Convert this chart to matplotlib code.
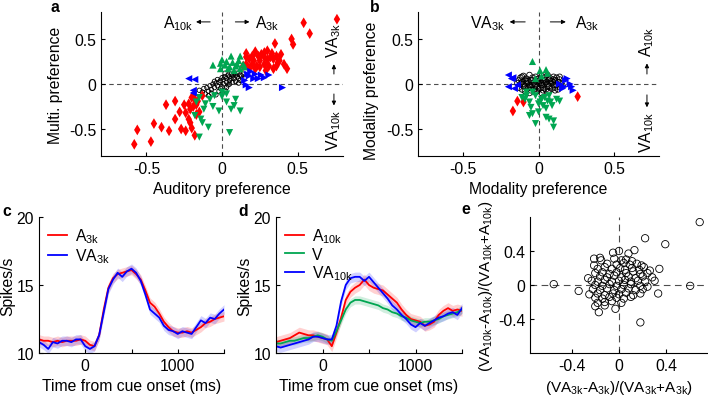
import numpy as np
import matplotlib
matplotlib.use('Agg')
import matplotlib.pyplot as plt

plt.rcParams['font.family'] = ['Liberation Sans', 'DejaVu Sans']
plt.rcParams['mathtext.fontset'] = 'custom'
plt.rcParams['mathtext.rm'] = 'Liberation Sans'
plt.rcParams['mathtext.it'] = 'Liberation Sans'
FS = 11.3
plt.rcParams['font.size'] = FS

# ---- panel a: auditory vs multi preference ----
a_red = [(0.76, 0.72), (0.54, 0.68), (0.58, 0.56), (0.46, 0.50), (0.47, 0.44), (0.35, 0.45),
         (0.16, 0.34), (0.22, 0.36), (0.28, 0.35), (0.30, 0.37), (0.33, 0.34), (0.20, 0.31),
         (0.24, 0.31), (0.28, 0.30), (0.32, 0.30), (0.36, 0.31), (0.18, 0.28), (0.21, 0.26),
         (0.25, 0.26), (0.30, 0.27), (0.34, 0.28), (0.38, 0.26), (0.41, 0.22), (0.16, 0.22),
         (0.20, 0.22), (0.23, 0.20), (0.28, 0.22), (0.31, 0.20), (0.36, 0.20), (0.43, 0.17),
         (0.18, 0.17), (0.22, 0.17), (0.25, 0.19), (0.34, 0.17), (0.16, 0.30), (0.26, 0.33),
         (0.39, 0.33), (0.14, 0.20), (0.29, 0.15), (0.37, 0.24),
         (-0.58, -0.67), (-0.56, -0.51), (-0.47, -0.64), (-0.45, -0.44), (-0.40, -0.48),
         (-0.37, -0.23), (-0.35, -0.52), (-0.31, -0.39), (-0.31, -0.19), (-0.28, -0.31),
         (-0.27, -0.50), (-0.25, -0.23), (-0.24, -0.52), (-0.22, -0.39), (-0.21, -0.28),
         (-0.21, -0.43), (-0.19, -0.13), (-0.18, -0.17), (-0.17, -0.34), (-0.17, -0.23),
         (-0.16, -0.19), (-0.15, -0.31), (-0.18, -0.57), (-0.20, -0.49), (-0.13, -0.13),
         (-0.24, -0.32), (-0.20, -0.15), (-0.22, -0.22), (-0.19, -0.25)]
a_green_up = [(-0.06, 0.21), (-0.01, 0.23), (0.02, 0.21), (0.06, 0.31), (0.09, 0.20), (0.14, 0.22),
              (0.05, 0.19), (0.00, 0.27), (0.04, 0.17), (0.10, 0.22), (0.12, 0.17), (0.12, 0.31),
              (0.15, 0.19), (-0.01, 0.17), (0.07, 0.24), (0.03, 0.25), (0.08, 0.15), (0.11, 0.26)]
a_green_down = [(-0.15, -0.15), (-0.15, -0.59), (-0.09, -0.48), (-0.14, -0.39), (-0.12, -0.28),
                (-0.08, -0.17), (-0.05, -0.13), (0.00, -0.14), (0.00, -0.09), (0.05, -0.54),
                (0.03, -0.20), (0.06, -0.28), (0.12, -0.30), (0.09, -0.17), (-0.18, -0.35),
                (-0.17, -0.20), (-0.02, -0.30), (0.08, -0.24), (-0.11, -0.22), (-0.13, -0.43),
                (-0.06, -0.25), (0.03, -0.11)]
a_blue_left = [(-0.22, 0.06), (-0.18, 0.05), (-0.19, -0.07), (-0.19, -0.10)]
a_blue_right = [(0.18, 0.09), (0.21, 0.06), (0.28, 0.07), (0.31, 0.10), (0.40, -0.04), (0.16, -0.01),
                (0.18, -0.04), (0.24, 0.06), (0.26, 0.10), (0.19, 0.14), (0.15, 0.04), (0.22, 0.11),
                (0.17, 0.11)]
a_circles = [(-0.15, -0.07), (-0.13, -0.09), (-0.12, -0.05), (-0.10, -0.04), (-0.09, -0.08),
             (-0.08, -0.02), (-0.07, -0.06), (-0.06, 0.00), (-0.05, 0.03), (-0.05, -0.04),
             (-0.04, 0.01), (-0.03, 0.05), (-0.03, -0.02), (-0.02, 0.02), (-0.01, 0.04),
             (-0.01, -0.05), (0.00, 0.07), (0.00, -0.03), (0.01, 0.05), (0.01, 0.00),
             (0.02, 0.08), (0.02, -0.07), (0.03, 0.06), (0.03, 0.02), (0.04, 0.10),
             (0.04, -0.01), (0.05, 0.08), (0.05, 0.04), (0.06, 0.11), (0.06, 0.06),
             (0.07, 0.09), (0.07, 0.02), (0.08, 0.12), (0.08, 0.06), (0.09, 0.10),
             (0.09, 0.03), (0.10, 0.08), (0.10, 0.12), (0.11, 0.06), (0.12, 0.10),
             (0.12, 0.04), (0.13, 0.09), (0.14, 0.11), (0.15, 0.07), (-0.11, -0.11),
             (-0.07, -0.10), (-0.02, -0.08), (0.03, -0.04), (-0.04, -0.12), (0.00, -0.10),
             (0.05, 0.00), (0.11, 0.01), (-0.09, -0.13), (0.02, 0.12)]

# ---- panel b: modality preference ----
b_red = [(-0.17, -0.30), (-0.14, -0.19), (-0.10, -0.20), (0.26, -0.14)]
b_green_up = [(-0.04, 0.25), (0.01, 0.15), (0.05, 0.16), (0.02, 0.09), (0.06, 0.12), (-0.02, 0.06)]
b_green_down = [(-0.11, -0.15), (-0.08, -0.13), (-0.06, -0.20), (-0.05, -0.26), (-0.04, -0.33),
                (-0.06, -0.35), (-0.02, -0.44), (0.02, -0.17), (0.04, -0.15), (0.06, -0.19),
                (0.08, -0.20), (0.12, -0.17), (0.07, -0.13), (-0.02, -0.13), (0.01, -0.20),
                (0.05, -0.37), (0.07, -0.39), (0.10, -0.48), (0.10, -0.41), (-0.08, -0.09),
                (-0.04, -0.09), (0.03, -0.24), (0.00, -0.31), (0.09, -0.24), (0.14, -0.19),
                (-0.09, -0.17), (0.00, -0.22), (0.05, -0.27)]
b_blue_left = [(-0.20, 0.10), (-0.17, 0.07), (-0.20, -0.03), (-0.16, -0.05), (-0.14, -0.01),
               (-0.18, 0.06)]
b_blue_right = [(0.18, 0.04), (0.21, 0.00), (0.17, -0.03), (0.23, -0.07), (0.16, -0.05),
                (0.19, 0.06), (0.14, 0.00), (0.22, -0.03)]
b_circles = [(-0.10, 0.09), (-0.06, 0.10), (-0.02, 0.08), (0.02, 0.09), (0.06, 0.10), (0.10, 0.08),
             (-0.12, 0.07), (-0.08, 0.06), (-0.04, 0.07), (0.00, 0.06), (0.04, 0.07), (0.08, 0.06),
             (0.12, 0.07), (-0.13, 0.04), (-0.09, 0.05), (-0.05, 0.04), (-0.01, 0.05), (0.03, 0.04),
             (0.07, 0.05), (0.11, 0.04), (0.14, 0.05), (-0.11, 0.02), (-0.07, 0.03), (-0.03, 0.02),
             (0.01, 0.03), (0.05, 0.02), (0.09, 0.03), (0.13, 0.02), (-0.12, 0.00), (-0.08, 0.01),
             (-0.04, -0.01), (0.00, 0.01), (0.04, 0.00), (0.08, 0.01), (0.12, -0.01), (0.15, 0.01),
             (-0.10, -0.02), (-0.06, -0.01), (-0.02, -0.02), (0.02, -0.01), (0.06, -0.02),
             (0.10, -0.01), (0.14, -0.03), (-0.13, -0.04), (-0.09, -0.03), (-0.05, -0.04),
             (-0.01, -0.03), (0.03, -0.04), (0.07, -0.03), (0.11, -0.04), (-0.11, -0.06),
             (-0.07, -0.05), (-0.03, -0.06), (0.01, -0.05), (0.05, -0.06), (0.09, -0.05),
             (0.13, -0.06), (-0.09, -0.08), (-0.05, -0.07), (-0.01, -0.08), (0.03, -0.07),
             (0.07, -0.08), (0.11, -0.07), (-0.06, -0.10), (-0.02, -0.09), (0.02, -0.10),
             (0.06, -0.09), (-0.11, 0.08), (0.14, 0.08), (0.16, -0.02), (-0.14, 0.01),
             (-0.08, 0.03), (-0.04, 0.04), (0.00, 0.03), (0.04, 0.04), (0.08, 0.03), (-0.06, -0.03),
             (-0.02, 0.00), (0.02, 0.01), (0.06, 0.00), (0.10, 0.05), (-0.10, 0.00), (0.00, -0.06)]

# ---- panels c, d: firing rate time courses ----
times = np.arange(-500, 1501, 50)
c_A3k = [11.0, 10.9, 10.9, 10.8, 10.9, 10.8, 10.9, 10.9, 10.9, 11.0, 10.9, 10.6, 10.5, 11.3,
         13.2, 14.8, 15.5, 15.8, 15.9, 16.0, 16.1, 15.8, 15.4, 14.6, 13.7, 13.4, 12.9, 12.3,
         11.9, 11.6, 11.5, 11.5, 11.6, 11.5, 11.7, 11.9, 12.2, 12.3, 12.5, 12.6, 12.7]
c_VA3k = [10.8, 10.6, 10.3, 10.8, 10.7, 10.9, 10.9, 10.8, 11.0, 11.0, 10.5, 10.3, 10.5, 11.3,
          13.0, 14.7, 15.4, 15.9, 15.6, 16.0, 16.2, 15.9, 15.3, 14.3, 13.2, 12.9, 12.6, 12.0,
          11.7, 11.6, 11.4, 11.6, 11.5, 11.4, 11.9, 12.4, 12.2, 12.6, 12.5, 12.9, 13.2]
d_A10k = [10.8, 10.9, 11.0, 11.1, 11.3, 11.5, 11.4, 11.3, 11.3, 11.2, 11.1, 11.0, 10.5, 11.5,
          12.6, 13.9, 14.5, 14.8, 15.0, 15.4, 15.0, 14.8, 14.7, 14.6, 14.3, 14.0, 13.7, 13.2,
          12.8, 12.5, 12.4, 12.3, 12.0, 12.1, 12.3, 12.8, 13.1, 13.3, 13.1, 13.2, 13.1]
d_V = [10.7, 10.7, 10.8, 10.9, 10.9, 11.0, 11.1, 11.1, 11.2, 11.3, 11.2, 11.0, 10.9, 11.6,
       12.4, 13.2, 13.7, 13.9, 13.9, 13.8, 13.7, 13.6, 13.5, 13.3, 13.2, 13.0, 12.9, 12.7,
       12.6, 12.4, 12.3, 12.2, 12.3, 12.3, 12.4, 12.5, 12.7, 12.8, 12.9, 13.0, 13.2]
d_VA10k = [10.5, 10.4, 10.5, 10.6, 10.7, 10.8, 10.9, 11.0, 11.2, 11.2, 11.1, 11.0, 11.0, 12.0,
           13.8, 15.0, 15.5, 15.6, 15.6, 15.3, 15.6, 15.2, 14.8, 14.4, 14.0, 13.5, 13.2, 12.8,
           12.5, 12.1, 11.9, 12.2, 12.0, 12.2, 12.4, 12.6, 12.7, 12.9, 13.0, 12.8, 13.3]
sem_c = 0.35
sem_d = {'A': 0.4, 'V': 0.3, 'VA': 0.35}

# ---- panel e: index scatter ----
e_points = [(0.68, 0.74), (0.22, 0.55), (0.39, 0.48), (-0.55, 0.01), (-0.34, -0.07), (0.60, -0.01),
            (0.18, -0.44), (0.33, -0.10), (0.34, 0.19), (-0.17, -0.32), (-0.03, -0.28),
            (-0.26, 0.08), (-0.21, 0.31), (-0.16, 0.32), (-0.21, 0.23), (0.00, 0.40),
            (-0.05, 0.38), (0.13, 0.41), (0.08, 0.37),
            (-0.15, 0.29), (-0.04, 0.31), (0.02, 0.29), (0.06, 0.30), (0.11, 0.28),
            (-0.10, 0.25), (-0.02, 0.24), (0.04, 0.26), (0.09, 0.24), (0.15, 0.25), (0.19, 0.23),
            (-0.18, 0.19), (-0.12, 0.21), (-0.06, 0.19), (0.01, 0.20), (0.05, 0.18), (0.11, 0.20),
            (0.17, 0.18), (0.21, 0.21), (0.26, 0.17),
            (-0.20, 0.14), (-0.14, 0.15), (-0.08, 0.13), (-0.02, 0.15), (0.06, 0.14), (0.12, 0.16),
            (0.18, 0.13), (0.24, 0.14),
            (-0.16, 0.10), (-0.10, 0.09), (-0.04, 0.11), (0.02, 0.09), (0.08, 0.10), (0.14, 0.08),
            (0.20, 0.10), (0.28, 0.09),
            (-0.23, 0.05), (-0.18, 0.04), (-0.12, 0.06), (-0.06, 0.04), (0.00, 0.05), (0.05, 0.06),
            (0.10, 0.04), (0.16, 0.05), (0.22, 0.04), (0.30, 0.05),
            (-0.20, 0.00), (-0.14, -0.01), (-0.08, 0.01), (-0.02, -0.01), (0.04, 0.00), (0.10, 0.01),
            (0.18, -0.01), (0.24, -0.02),
            (-0.22, -0.05), (-0.16, -0.06), (-0.10, -0.04), (-0.04, -0.06), (0.02, -0.05),
            (0.08, -0.04), (0.14, -0.06), (0.20, -0.05),
            (-0.25, -0.11), (-0.18, -0.10), (-0.12, -0.12), (-0.05, -0.10), (0.00, -0.11),
            (0.06, -0.09), (0.12, -0.12), (0.18, -0.10),
            (-0.20, -0.15), (-0.14, -0.16), (-0.08, -0.14), (-0.02, -0.15), (0.04, -0.16),
            (0.10, -0.14),
            (-0.18, -0.21), (-0.12, -0.20), (-0.06, -0.19), (0.02, -0.21),
            (-0.20, -0.25), (-0.12, -0.24)]

RED, BLUE, GREEN = '#ff0000', '#0000ff', '#00a651'
A3 = r'A$_{\mathrm{3k}}$'
VA3 = r'VA$_{\mathrm{3k}}$'
A10 = r'A$_{\mathrm{10k}}$'
VA10 = r'VA$_{\mathrm{10k}}$'

fig = plt.figure(figsize=(7.08, 4.02), dpi=100)
W, H = 708.0, 402.0


def box(l, t, r, b):
    return [l / W, 1 - b / H, (r - l) / W, (b - t) / H]


def style(ax):
    for s in ['top', 'right']:
        ax.spines[s].set_visible(False)
    for s in ['left', 'bottom']:
        ax.spines[s].set_linewidth(0.8)
    ax.tick_params(direction='in', length=3, width=0.8, labelsize=FS)


def sc(ax, pts, marker, color, size, face=True):
    xs = [p[0] for p in pts]
    ys = [p[1] for p in pts]
    if face:
        ax.scatter(xs, ys, marker=marker, s=size, c=color, edgecolors='none', zorder=3)
    else:
        ax.scatter(xs, ys, marker=marker, s=size, facecolors='none', edgecolors=color,
                   linewidths=0.6, zorder=2)


def arrow(ax, start, end):
    ax.annotate('', xy=end, xytext=start,
                arrowprops=dict(arrowstyle='-|>', lw=0.7, color='k', mutation_scale=6),
                annotation_clip=False)


dash = dict(color='0.3', lw=0.8, ls=(0, (4, 3)), zorder=1)

# panel a
ax = fig.add_axes(box(101, 13, 343, 157))
style(ax)
ax.axhline(0, **dash)
ax.axvline(0, **dash)
sc(ax, a_circles, 'o', 'k', 10, face=False)
sc(ax, a_red, 'd', RED, 30)
sc(ax, a_green_up, '^', GREEN, 26)
sc(ax, a_green_down, 'v', GREEN, 26)
sc(ax, a_blue_left, '<', BLUE, 26)
sc(ax, a_blue_right, '>', BLUE, 26)
ax.set_xlim(-0.8, 0.8)
ax.set_ylim(-0.8, 0.8)
ax.set_xticks([-0.5, 0, 0.5])
ax.set_xticklabels(['-0.5', '0', '0.5'])
ax.set_yticks([-0.5, 0, 0.5])
ax.set_yticklabels(['-0.5', '0', '0.5'])
ax.set_xlabel('Auditory preference', fontsize=FS)
ax.set_ylabel('Multi. preference', fontsize=FS)
ax.text(-0.29, 0.68, A10, ha='center', va='center', fontsize=FS)
arrow(ax, (-0.06, 0.69), (-0.19, 0.69))
arrow(ax, (0.07, 0.69), (0.20, 0.69))
ax.text(0.22, 0.68, A3, ha='left', va='center', fontsize=FS)
ax.text(0.74, 0.49, VA3, ha='center', va='center', rotation=90, fontsize=FS)
arrow(ax, (0.74, 0.08), (0.74, 0.25))
arrow(ax, (0.74, -0.08), (0.74, -0.27))
ax.text(0.74, -0.50, VA10, ha='center', va='center', rotation=90, fontsize=FS)
fig.text(55 / W, 1 - 7 / H, 'a', fontsize=FS, fontweight='bold', va='center', ha='center')

# panel b
ax = fig.add_axes(box(418, 13, 659, 157))
style(ax)
ax.axhline(0, **dash)
ax.axvline(0, **dash)
sc(ax, b_circles, 'o', 'k', 16, face=False)
sc(ax, b_red, 'd', RED, 30)
sc(ax, b_green_up, '^', GREEN, 26)
sc(ax, b_green_down, 'v', GREEN, 26)
sc(ax, b_blue_left, '<', BLUE, 26)
sc(ax, b_blue_right, '>', BLUE, 26)
ax.set_xlim(-0.8, 0.8)
ax.set_ylim(-0.8, 0.8)
ax.set_xticks([-0.5, 0, 0.5])
ax.set_xticklabels(['-0.5', '0', '0.5'])
ax.set_yticks([-0.5, 0, 0.5])
ax.set_yticklabels(['-0.5', '0', '0.5'])
ax.set_xlabel('Modality preference', fontsize=FS)
ax.set_ylabel('Modality preference', fontsize=FS, labelpad=2)
ax.yaxis.set_label_coords(-0.16, 0.46)
ax.text(-0.34, 0.68, VA3, ha='center', va='center', fontsize=FS)
arrow(ax, (-0.07, 0.69), (-0.21, 0.69))
arrow(ax, (0.06, 0.69), (0.20, 0.69))
ax.text(0.24, 0.68, A3, ha='left', va='center', fontsize=FS)
ax.text(0.72, 0.48, A10, ha='center', va='center', rotation=90, fontsize=FS)
arrow(ax, (0.72, 0.08), (0.72, 0.26))
arrow(ax, (0.72, -0.09), (0.72, -0.29))
ax.text(0.72, -0.53, VA10, ha='center', va='center', rotation=90, fontsize=FS)
fig.text(375 / W, 1 - 7 / H, 'b', fontsize=FS, fontweight='bold', va='center', ha='center')


def trace(ax, y, sem, color, label):
    y = np.array(y)
    ax.fill_between(times, y - sem, y + sem, color=color, alpha=0.18, lw=0)
    ax.plot(times, y, color=color, lw=1.3, label=label)


def rate_axes(ax):
    style(ax)
    ax.set_xlim(-500, 1500)
    ax.set_ylim(10, 20)
    ax.set_xticks([-500, 0, 500, 1000, 1500])
    ax.set_xticklabels(['', '0', '', '1000', ''])
    ax.set_yticks([10, 15, 20])
    ax.set_xlabel('Time from cue onset (ms)', fontsize=FS)
    ax.set_ylabel('Spikes/s', fontsize=FS, labelpad=1)
    ax.legend(loc='upper left', frameon=False, fontsize=FS, handlelength=1.2,
              handletextpad=0.5, labelspacing=0.1, borderaxespad=0.2)


# panel c
ax = fig.add_axes(box(39, 218, 224, 354))
trace(ax, c_A3k, sem_c, RED, A3)
trace(ax, c_VA3k, sem_c, BLUE, VA3)
rate_axes(ax)
fig.text(7 / W, 1 - 212 / H, 'c', fontsize=FS, fontweight='bold', va='center', ha='center')

# panel d
ax = fig.add_axes(box(276, 218, 462, 354))
trace(ax, d_A10k, sem_d['A'], RED, A10)
trace(ax, d_V, sem_d['V'], GREEN, 'V')
trace(ax, d_VA10k, sem_d['VA'], BLUE, VA10)
rate_axes(ax)
fig.text(243 / W, 1 - 212 / H, 'd', fontsize=FS, fontweight='bold', va='center', ha='center')

# panel e
ax = fig.add_axes(box(530, 218, 708, 354))
style(ax)
edash = dict(color='0.3', lw=0.8, ls=(0, (6, 4)), zorder=1)
ax.axhline(0, **edash)
ax.axvline(0, **edash)
sc(ax, e_points, 'o', 'k', 28, face=False)
ax.set_xlim(-0.75, 0.75)
ax.set_ylim(-0.8, 0.8)
ax.set_xticks([-0.4, 0, 0.4])
ax.set_xticklabels(['-0.4', '0', '0.4'])
ax.set_yticks([-0.4, 0, 0.4])
ax.set_yticklabels(['-0.4', '0', '0.4'])
ax.set_xlabel(r'(VA$_{\mathrm{3k}}$-A$_{\mathrm{3k}}$)/(VA$_{\mathrm{3k}}$+A$_{\mathrm{3k}}$)',
              fontsize=11)
ax.set_ylabel(r'(VA$_{\mathrm{10k}}$-A$_{\mathrm{10k}}$)/(VA$_{\mathrm{10k}}$+A$_{\mathrm{10k}}$)',
              fontsize=11, labelpad=2)
fig.text(466 / W, 1 - 210 / H, 'e', fontsize=FS, fontweight='bold', va='center', ha='center')

fig.savefig('out.png', dpi=100)
